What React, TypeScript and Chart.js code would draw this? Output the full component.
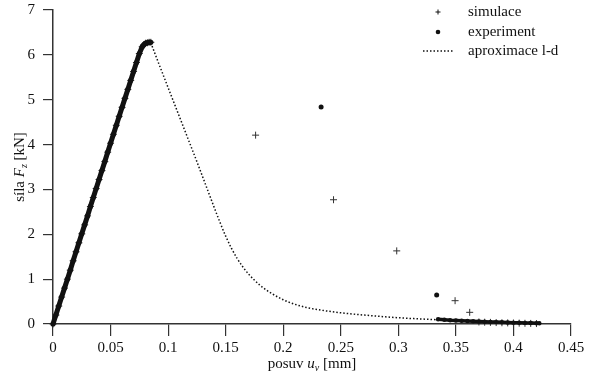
import { useEffect, useRef } from "react";
import { Chart, registerables } from "chart.js";
Chart.register(...registerables);

// rise of the load–displacement curve (experiment, dense)
const riseX = [0, 0.0025, 0.005, 0.0075, 0.01, 0.0125, 0.015, 0.0175, 0.02, 0.0225, 0.025, 0.0275, 0.03, 0.0325, 0.035, 0.0375, 0.04, 0.0425, 0.045, 0.0475, 0.05, 0.0525, 0.055, 0.0575, 0.06, 0.0625, 0.065, 0.0675, 0.07, 0.0725, 0.075, 0.0775, 0.079, 0.0805, 0.082, 0.0835, 0.085];
const riseY = [0, 0.2, 0.4, 0.6, 0.8, 1.0, 1.2, 1.41, 1.61, 1.81, 2.01, 2.21, 2.41, 2.62, 2.82, 3.02, 3.22, 3.42, 3.62, 3.83, 4.03, 4.23, 4.43, 4.63, 4.83, 5.03, 5.23, 5.43, 5.63, 5.83, 6.03, 6.18, 6.23, 6.26, 6.27, 6.28, 6.28];

// isolated experiment points
const expX = [0.2329, 0.3333];
const expY = [4.84, 0.646];

// experiment tail (dense)
const tailX = [0.3345, 0.34, 0.345, 0.35, 0.355, 0.36, 0.365, 0.37, 0.375, 0.38, 0.385, 0.39, 0.395, 0.4, 0.405, 0.41, 0.415, 0.42, 0.4225];
const tailY = [0.105, 0.095, 0.085, 0.078, 0.072, 0.066, 0.06, 0.055, 0.05, 0.046, 0.042, 0.038, 0.034, 0.03, 0.027, 0.024, 0.021, 0.018, 0.016];

// simulace points
const simX = [0.176, 0.2437, 0.2986, 0.3493, 0.362, 0.37, 0.375, 0.38, 0.385, 0.39, 0.395, 0.4, 0.405, 0.41, 0.415, 0.42];
const simY = [4.21, 2.77, 1.63, 0.52, 0.26, 0.045, 0.04, 0.036, 0.032, 0.028, 0.025, 0.022, 0.019, 0.016, 0.013, 0.01];

// aproximace l-d
const aprX = [0.085, 0.09, 0.095, 0.1, 0.105, 0.11, 0.115, 0.12, 0.125, 0.13, 0.135, 0.14, 0.145, 0.15, 0.155, 0.16, 0.165, 0.17, 0.18, 0.19, 0.2, 0.21, 0.22, 0.23, 0.25, 0.27, 0.3, 0.33, 0.36, 0.39, 0.42];
const aprY = [6.27, 5.93, 5.6, 5.27, 4.94, 4.61, 4.28, 3.95, 3.62, 3.28, 2.94, 2.6, 2.27, 1.96, 1.69, 1.46, 1.27, 1.11, 0.86, 0.68, 0.54, 0.44, 0.37, 0.32, 0.25, 0.2, 0.14, 0.1, 0.07, 0.05, 0.03];

const xTicks = [0, 0.05, 0.1, 0.15, 0.2, 0.25, 0.3, 0.35, 0.4, 0.45];
const legendLabels = ["simulace", "experiment", "aproximace l-d"];

const FONT = "'Liberation Serif', 'Times New Roman', serif";
const INK = "#111";

const pts = (xs: number[], ys: number[]) => xs.map((x, i) => ({ x, y: ys[i] }));

type Part = { t: string; it?: boolean; sub?: boolean };
function drawRich(ctx: CanvasRenderingContext2D, parts: Part[], cx: number, cy: number) {
  const fontFor = (p: Part) => `${p.it ? "italic " : ""}${p.sub ? 10 : 15}px ${FONT}`;
  let total = 0;
  for (const p of parts) { ctx.font = fontFor(p); total += ctx.measureText(p.t).width; }
  let x = cx - total / 2;
  ctx.textBaseline = "middle";
  ctx.textAlign = "left";
  for (const p of parts) {
    ctx.font = fontFor(p);
    ctx.fillText(p.t, x, cy + (p.sub ? 4 : 0));
    x += ctx.measureText(p.t).width;
  }
}

const decor = {
  id: "decor",
  afterDraw(chart: any) {
    const ctx: CanvasRenderingContext2D = chart.ctx;
    const a = chart.chartArea;
    ctx.save();
    ctx.fillStyle = INK;
    drawRich(ctx, [{ t: "posuv " }, { t: "u", it: true }, { t: "v", it: true, sub: true }, { t: " [mm]" }], (a.left + a.right) / 2, 364);
    ctx.save();
    ctx.translate(20, (a.top + a.bottom) / 2);
    ctx.rotate(-Math.PI / 2);
    drawRich(ctx, [{ t: "síla " }, { t: "F", it: true }, { t: "z", it: true, sub: true }, { t: " [kN]" }], 0, 0);
    ctx.restore();

    // legend
    const mx = 438, tx = 468, rows = [12, 32, 51];
    ctx.font = `15px ${FONT}`;
    ctx.textBaseline = "middle";
    ctx.textAlign = "left";
    legendLabels.forEach((lab, i) => ctx.fillText(lab, tx, rows[i]));
    ctx.strokeStyle = INK;
    ctx.lineWidth = 1;
    ctx.beginPath();
    ctx.moveTo(mx - 2.5, rows[0]); ctx.lineTo(mx + 2.5, rows[0]);
    ctx.moveTo(mx, rows[0] - 2.5); ctx.lineTo(mx, rows[0] + 2.5);
    ctx.stroke();
    ctx.beginPath();
    ctx.arc(mx, rows[1], 2.3, 0, Math.PI * 2);
    ctx.fill();
    ctx.setLineDash([1.5, 2]);
    ctx.lineWidth = 1.5;
    ctx.beginPath();
    ctx.moveTo(423, rows[2]); ctx.lineTo(453, rows[2]);
    ctx.stroke();
    ctx.restore();
  },
};

export default function App() {
  const ref = useRef<HTMLCanvasElement>(null);
  useEffect(() => {
    document.body.style.margin = "0";
    const chart = new Chart(ref.current!, {
      type: "scatter",
      data: {
        datasets: [
          {
            label: "aproximace l-d",
            data: pts(aprX, aprY),
            showLine: true,
            borderColor: INK,
            borderWidth: 1.5,
            borderDash: [1.5, 2],
            cubicInterpolationMode: "monotone",
            pointRadius: 0,
          },
          {
            label: "experiment-rise",
            data: pts(riseX, riseY),
            showLine: true,
            borderColor: INK,
            borderWidth: 5,
            backgroundColor: INK,
            pointRadius: 2.6,
            pointBorderWidth: 0,
          },
          {
            label: "experiment-tail",
            data: pts(tailX, tailY),
            showLine: true,
            borderColor: INK,
            borderWidth: 3.5,
            backgroundColor: INK,
            pointRadius: 2.2,
            pointBorderWidth: 0,
          },
          {
            label: "experiment",
            data: pts(expX, expY),
            backgroundColor: INK,
            pointRadius: 2.5,
            pointBorderWidth: 0,
          },
          {
            label: "simulace",
            data: pts(simX, simY).concat(pts(riseX, riseY)),
            pointStyle: "cross",
            borderColor: "#333",
            borderWidth: 1,
            pointRadius: 3.5,
            showLine: false,
          },
        ],
      },
      options: {
        animation: false,
        responsive: false,
        clip: false as any,
        layout: { padding: { top: 10, right: 19, left: 0, bottom: 0 } },
        plugins: { legend: { display: false }, tooltip: { enabled: false } },
        scales: {
          x: {
            type: "linear",
            min: 0,
            max: 0.45,
            afterFit: (s: any) => { s.height = 52; s.paddingLeft = 0; s.paddingRight = 0; },
            afterBuildTicks: (s: any) => { s.ticks = xTicks.map((v) => ({ value: v })); },
            ticks: {
              color: INK,
              font: { family: FONT, size: 15 },
              padding: 3,
              maxRotation: 0,
              callback: (v: any) => String(+Number(v).toFixed(2)),
            },
            grid: { drawOnChartArea: false, drawTicks: true, tickLength: 12, color: "#333", lineWidth: 1.2 },
            border: { display: true, color: "#333", width: 1.5 },
          },
          y: {
            type: "linear",
            min: 0,
            max: 7,
            afterFit: (s: any) => { s.width = 53; s.paddingTop = 0; s.paddingBottom = 0; },
            ticks: {
              stepSize: 1,
              color: INK,
              font: { family: FONT, size: 15 },
              padding: 8,
            },
            grid: { drawOnChartArea: false, drawTicks: true, tickLength: 10, color: "#333", lineWidth: 1.2 },
            border: { display: true, color: "#333", width: 1.5 },
          },
        },
      },
      plugins: [decor],
    });
    return () => chart.destroy();
  }, []);
  return <canvas ref={ref} width={590} height={376} style={{ display: "block" }} />;
}
